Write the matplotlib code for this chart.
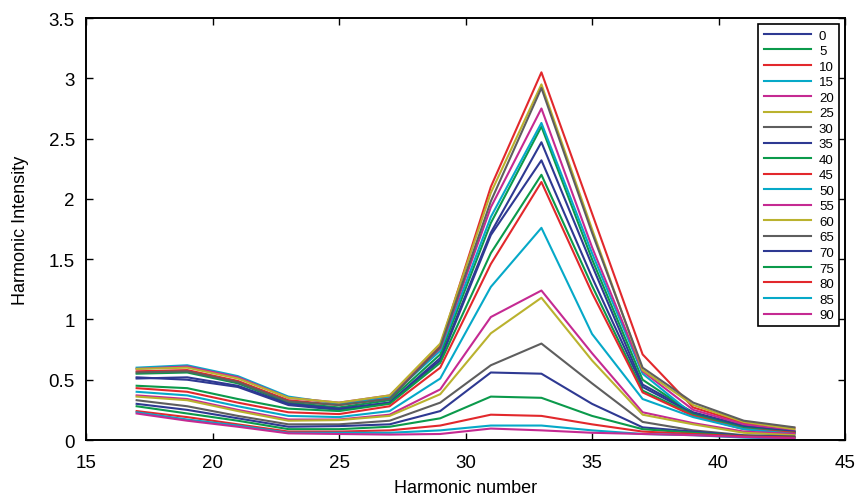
import numpy as np
import matplotlib
matplotlib.use("Agg")
import matplotlib.pyplot as plt
from matplotlib.ticker import FuncFormatter

plt.rcParams['font.family'] = ['Liberation Sans', 'DejaVu Sans']

# harmonic orders on the x axis
harmonics = [17, 19, 21, 23, 25, 27, 29, 31, 33, 35, 37, 39, 41, 43]

# one curve per angle (legend labels)
angles = [0, 5, 10, 15, 20, 25, 30, 35, 40, 45, 50, 55, 60, 65, 70, 75, 80, 85, 90]

a0  = [0.52, 0.50, 0.44, 0.29, 0.25, 0.31, 0.68, 1.72, 2.47, 1.45, 0.46, 0.23, 0.12, 0.07]
a5  = [0.55, 0.56, 0.47, 0.31, 0.27, 0.33, 0.71, 1.80, 2.60, 1.50, 0.50, 0.22, 0.11, 0.07]
a10 = [0.57, 0.58, 0.49, 0.33, 0.29, 0.35, 0.78, 2.10, 3.05, 1.88, 0.71, 0.27, 0.14, 0.10]
a15 = [0.60, 0.62, 0.53, 0.36, 0.30, 0.36, 0.74, 1.85, 2.63, 1.55, 0.55, 0.21, 0.10, 0.06]
a20 = [0.59, 0.61, 0.52, 0.35, 0.31, 0.37, 0.76, 1.93, 2.75, 1.60, 0.57, 0.25, 0.13, 0.08]
a25 = [0.59, 0.60, 0.51, 0.35, 0.31, 0.37, 0.80, 2.05, 2.95, 1.75, 0.58, 0.29, 0.15, 0.09]
a30 = [0.56, 0.57, 0.48, 0.32, 0.29, 0.34, 0.77, 1.98, 2.92, 1.72, 0.60, 0.31, 0.16, 0.105]
a35 = [0.51, 0.52, 0.45, 0.30, 0.26, 0.31, 0.66, 1.70, 2.32, 1.35, 0.44, 0.22, 0.11, 0.07]
a40 = [0.45, 0.43, 0.34, 0.26, 0.24, 0.30, 0.64, 1.55, 2.20, 1.28, 0.41, 0.21, 0.10, 0.06]
a45 = [0.43, 0.40, 0.31, 0.23, 0.215, 0.28, 0.60, 1.46, 2.14, 1.22, 0.395, 0.20, 0.09, 0.06]
a50 = [0.40, 0.37, 0.28, 0.20, 0.19, 0.24, 0.51, 1.27, 1.76, 0.88, 0.34, 0.19, 0.09, 0.05]
a55 = [0.37, 0.34, 0.25, 0.17, 0.17, 0.21, 0.42, 1.02, 1.24, 0.72, 0.23, 0.14, 0.07, 0.05]
a60 = [0.36, 0.33, 0.24, 0.16, 0.165, 0.20, 0.38, 0.885, 1.18, 0.66, 0.21, 0.13, 0.06, 0.04]
a65 = [0.33, 0.28, 0.20, 0.13, 0.13, 0.16, 0.31, 0.62, 0.80, 0.47, 0.15, 0.08, 0.04, 0.03]
a70 = [0.30, 0.25, 0.18, 0.11, 0.115, 0.13, 0.24, 0.56, 0.55, 0.30, 0.105, 0.07, 0.035, 0.025]
a75 = [0.28, 0.22, 0.16, 0.09, 0.09, 0.11, 0.18, 0.36, 0.35, 0.20, 0.09, 0.06, 0.03, 0.02]
a80 = [0.24, 0.19, 0.13, 0.07, 0.07, 0.08, 0.12, 0.21, 0.20, 0.13, 0.07, 0.05, 0.03, 0.02]
a85 = [0.23, 0.17, 0.12, 0.06, 0.06, 0.06, 0.08, 0.12, 0.12, 0.08, 0.05, 0.04, 0.02, 0.01]
a90 = [0.22, 0.16, 0.11, 0.055, 0.05, 0.045, 0.05, 0.095, 0.08, 0.06, 0.05, 0.04, 0.025, 0.015]

curves = [a0, a5, a10, a15, a20, a25, a30, a35, a40, a45,
          a50, a55, a60, a65, a70, a75, a80, a85, a90]

# old matlab line order, as it came out in print
colors = ['#2e3992', '#0b9a4b', '#e2282c', '#06a9c8', '#c52a92', '#bab22e', '#5e5e5e']

fig = plt.figure(figsize=(8.62, 5.02), dpi=100)
ax = fig.add_axes([0.0998, 0.1215, 0.8805, 0.8405])

for i, (ang, y) in enumerate(zip(angles, curves)):
    ax.plot(harmonics, y, color=colors[i % 7], lw=1.5, label=str(ang))

ax.set_xlim(15, 45)
ax.set_ylim(0, 3.5)
ax.set_xticks(range(15, 46, 5))
ax.set_yticks(np.arange(0, 3.51, 0.5))
ax.yaxis.set_major_formatter(FuncFormatter(lambda v, p: '%g' % v))
ax.tick_params(direction='in', top=True, right=True, length=5, width=1,
               labelsize=13.5)
ax.tick_params(axis='x', pad=10)
ax.tick_params(axis='y', pad=8)
for s in ax.spines.values():
    s.set_linewidth(1.4)

ax.set_xlabel('Harmonic number', fontsize=13, labelpad=6)
ax.set_ylabel('Harmonic Intensity', fontsize=13, labelpad=14)

leg = ax.legend(loc='upper right', fontsize=9.5, handlelength=3.6,
                labelspacing=0.25, borderaxespad=0.45, fancybox=False,
                framealpha=1, edgecolor='black', borderpad=0.4,
                handletextpad=0.6)
leg.get_frame().set_linewidth(1.2)

fig.savefig('out.png', dpi=100)
